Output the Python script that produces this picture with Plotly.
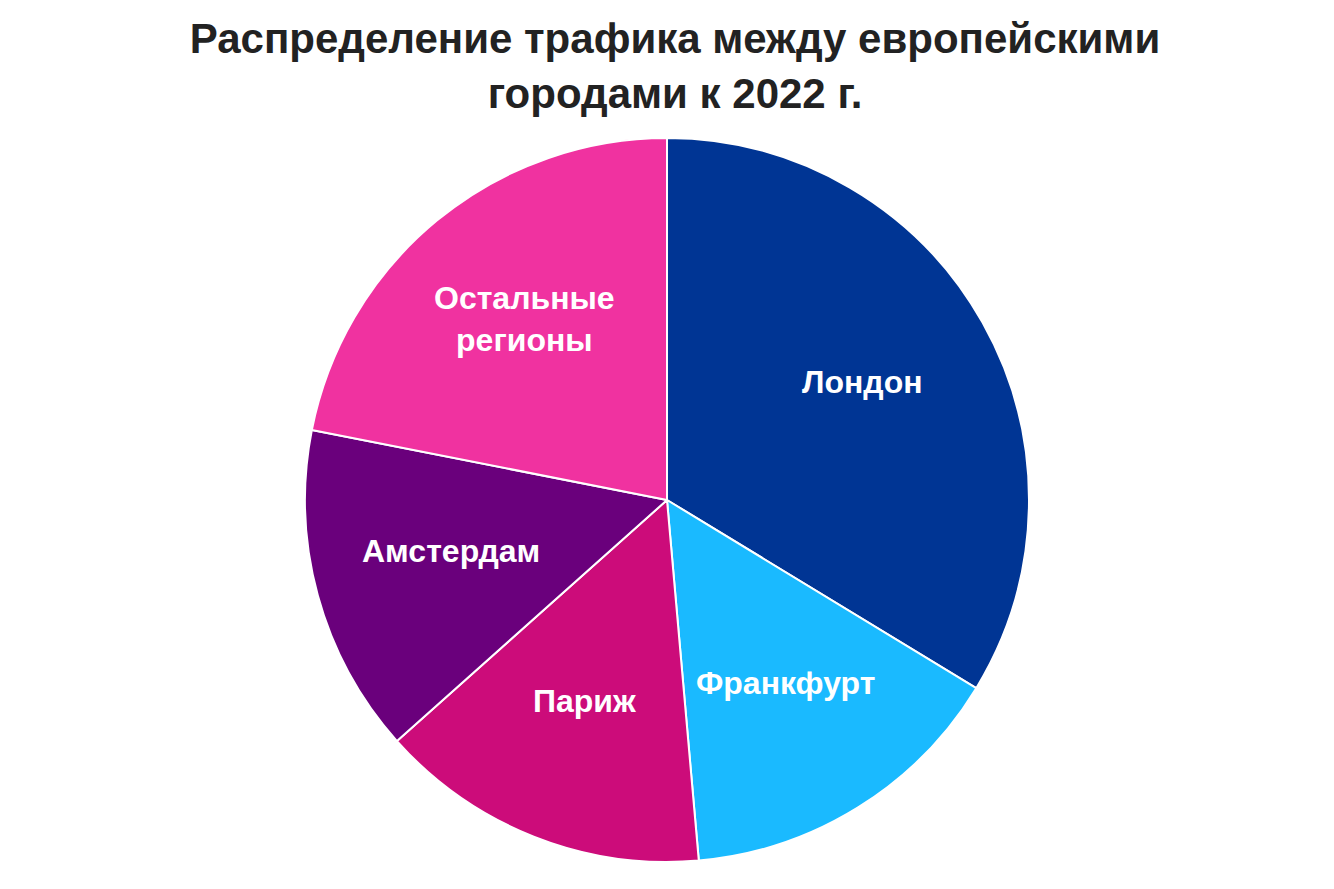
import math
import plotly.graph_objects as go

labels = ["Лондон", "Франкфурт", "Париж", "Амстердам", "Остальные<br>регионы"]
values = [33.7, 14.9, 14.8, 14.7, 21.9]
colors = ["#003594", "#1ABAFF", "#CC0C7A", "#6A007C", "#F032A0"]

W, H = 1334, 889
ML, MR, MT, MB = 0, 16, 130, 35
LABEL_R = 0.62  # label distance as fraction of radius

fig = go.Figure(go.Pie(
    labels=labels,
    values=values,
    sort=False,
    direction="clockwise",
    rotation=0,
    marker=dict(colors=colors, line=dict(color="white", width=2)),
    textinfo="none",
    hoverinfo="label+percent",
    showlegend=False,
))

# place labels along each slice's bisector, derived from values
pw, ph = W - ML - MR, H - MT - MB
R = min(pw, ph) / 2
total = sum(values)
cum = 0
annotations = []
for lab, v in zip(labels, values):
    mid = (cum + v / 2) / total * 2 * math.pi
    cum += v
    annotations.append(dict(
        text=f"<b>{lab}</b>",
        x=0.5 + LABEL_R * R * math.sin(mid) / pw,
        y=0.5 + LABEL_R * R * math.cos(mid) / ph,
        xref="paper", yref="paper", showarrow=False,
        xanchor="center", yanchor="middle", yshift=8,
        font=dict(family="Liberation Sans, Arial, sans-serif", size=32, color="white"),
    ))

fig.update_layout(
    width=W, height=H,
    paper_bgcolor="white", plot_bgcolor="white",
    margin=dict(l=ML, r=MR, t=MT, b=MB),
    annotations=annotations,
    title=dict(
        text="<b>Распределение трафика между европейскими<br>городами к 2022 г.</b>",
        x=0.5, xanchor="center",
        y=1 - 45 / H, yanchor="middle", yref="container",
        font=dict(family="Liberation Sans, Arial, sans-serif", size=42, color="#222222"),
    ),
)

fig.write_html("out.html")
